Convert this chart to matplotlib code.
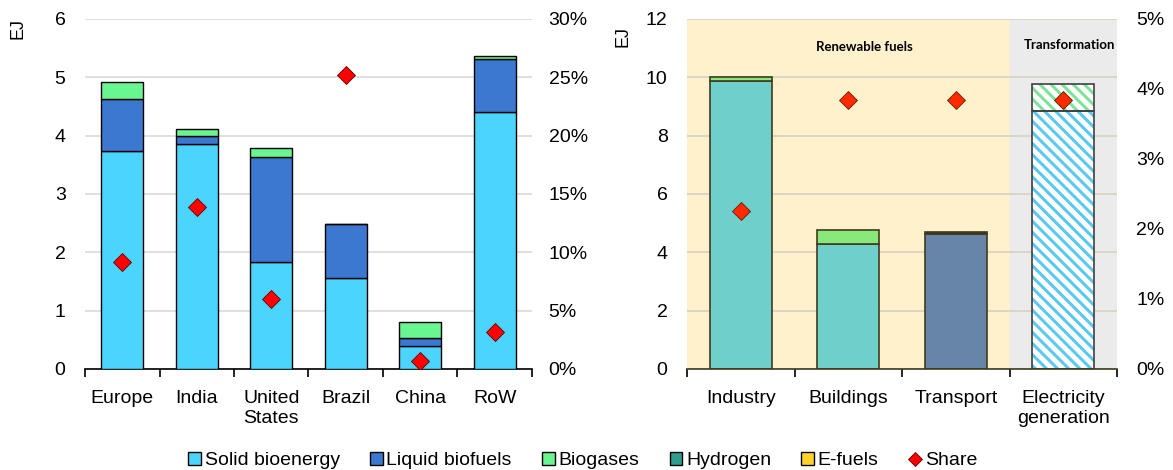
import numpy as np
import matplotlib
matplotlib.use("Agg")
import matplotlib.pyplot as plt
from matplotlib.patches import Patch
from matplotlib.lines import Line2D
from matplotlib.ticker import PercentFormatter

plt.rcParams["font.family"] = ["Liberation Sans", "DejaVu Sans"]
plt.rcParams["hatch.linewidth"] = 2.2

# Left panel: bioenergy by region
regions = ["Europe", "India", "United\nStates", "Brazil", "China", "RoW"]
solid = [3.73, 3.86, 1.83, 1.56, 0.39, 4.41]
liquid = [0.89, 0.14, 1.81, 0.93, 0.14, 0.90]
biogas = [0.30, 0.12, 0.15, 0.0, 0.28, 0.06]
share_left = [0.092, 0.139, 0.060, 0.252, 0.007, 0.032]

# Right panel: hydrogen-based fuels by sector
sectors = ["Industry", "Buildings", "Transport", "Electricity\ngeneration"]
main_fuel = [9.87, 4.27, 4.63, 8.84]
second_fuel = [0.14, 0.51, 0.06, 0.92]
share_right = [0.0225, 0.0384, 0.0384, 0.0384]

c_solid = "#4bd5fe"
c_liquid = "#3c78d0"
c_biogas = "#69f58f"
c_h2 = "#2e9c8f"
c_efuel = "#ffd42a"
c_red = "#ff0000"
c_grid = "#dcdcdc"
fs = 14

fig = plt.figure(figsize=(11.73, 4.70), dpi=100)

# ---------- left panel ----------
ax1 = fig.add_axes([0.0725, 0.2149, 0.381, 0.7447])
x = np.arange(len(regions))
w = 0.56
ax1.bar(x, solid, w, color=c_solid, edgecolor="black", lw=1, zorder=3)
ax1.bar(x, liquid, w, bottom=solid, color=c_liquid, edgecolor="black", lw=1, zorder=3)
b2 = np.array(solid) + np.array(liquid)
ax1.bar(x, biogas, w, bottom=b2, color=c_biogas, edgecolor="black", lw=1, zorder=3)
ax1.set_ylim(0, 6)
ax1.set_xlim(-0.5, len(regions) - 0.5)
ax1.set_yticks(range(0, 7))
ax1.yaxis.grid(True, color=c_grid, lw=1.3, zorder=0)
ax1.set_axisbelow(True)
for s in ["top", "right", "left"]:
    ax1.spines[s].set_visible(False)
ax1.spines["bottom"].set_color("black")
ax1.spines["bottom"].set_linewidth(1.2)
ax1.set_xticks(x)
ax1.set_xticklabels(regions, fontsize=fs, linespacing=1.25)
ax1.set_xticks(np.arange(-0.5, len(regions)), minor=True)
ax1.tick_params(axis="x", which="major", length=0, pad=15)
ax1.tick_params(axis="x", which="minor", length=6, width=1.2)
ax1.tick_params(axis="y", length=0, labelsize=fs, pad=14)
ax1.set_ylabel("EJ", fontsize=13)
ax1.yaxis.set_label_coords(-0.13, 0.974)

ax1r = ax1.twinx()
ax1r.plot(x, share_left, "D", color=c_red, mec="#5a0000", mew=0.6, ms=9, zorder=5)
ax1r.set_ylim(0, 0.30)
ax1r.set_yticks(np.arange(0, 0.31, 0.05))
ax1r.yaxis.set_major_formatter(PercentFormatter(1.0, decimals=0))
ax1r.tick_params(axis="y", length=0, labelsize=fs, pad=12)
for s in ax1r.spines.values():
    s.set_visible(False)

# ---------- right panel ----------
ax2 = fig.add_axes([0.5857, 0.2149, 0.3666, 0.7447])
x2 = np.arange(len(sectors))
w2 = 0.58
edge = "#3f3a1e"
ax2.axvspan(-0.5, 2.5, color="#fff1cc", zorder=0)
ax2.axvspan(2.5, 3.5, color="#ebebeb", zorder=0)
ax2.yaxis.grid(True, color="#d8d3c4", lw=1.3, zorder=1)

main_cols = ["#6fcfcb", "#6fcfcb", "#6685a8"]
top_cols = ["#88e879", "#88e879", "#3f3a1e"]
ax2.bar(x2[:3], main_fuel[:3], w2, color=main_cols, edgecolor=edge, lw=1.2, zorder=3)
ax2.bar(x2[:3], second_fuel[:3], w2, bottom=main_fuel[:3], color=top_cols,
        edgecolor=edge, lw=1.2, zorder=3)
# electricity generation: hatched
ax2.bar(x2[3], main_fuel[3], w2, color="white", edgecolor="#5bc8f0", hatch="\\\\\\",
        lw=0, zorder=3)
ax2.bar(x2[3], second_fuel[3], w2, bottom=main_fuel[3], color="white",
        edgecolor="#7ee39a", hatch="\\\\\\", lw=0, zorder=3)
ax2.bar(x2[3], main_fuel[3], w2, color="none", edgecolor="#404040", lw=1.2, zorder=4)
ax2.bar(x2[3], second_fuel[3], w2, bottom=main_fuel[3], color="none",
        edgecolor="#404040", lw=1.2, zorder=4)

ax2.set_ylim(0, 12)
ax2.set_xlim(-0.5, len(sectors) - 0.5)
ax2.set_yticks(range(0, 13, 2))
for s in ["top", "right", "left"]:
    ax2.spines[s].set_visible(False)
ax2.spines["bottom"].set_color(edge)
ax2.spines["bottom"].set_linewidth(1.2)
ax2.spines["bottom"].set_zorder(5)
ax2.set_xticks(x2)
ax2.set_xticklabels(sectors, fontsize=fs, linespacing=1.25)
ax2.set_xticks(np.arange(-0.5, len(sectors)), minor=True)
ax2.tick_params(axis="x", which="major", length=0, pad=15)
ax2.tick_params(axis="x", which="minor", length=6, width=1.2)
ax2.tick_params(axis="y", length=0, labelsize=fs, pad=14)
ax2.set_ylabel("EJ", fontsize=13)
ax2.yaxis.set_label_coords(-0.13, 0.949)
ax2.text(1.15, 11.04, "Renewable fuels", ha="center", va="center", fontsize=9.5,
         fontweight="bold", family=["Lato", "DejaVu Sans"], zorder=6)
ax2.text(3.06, 11.1, "Transformation", ha="center", va="center", fontsize=9.5,
         fontweight="bold", family=["Lato", "DejaVu Sans"], zorder=6)

ax2r = ax2.twinx()
ax2r.plot(x2, share_right, "D", color="#ff2a00", mec="#5a2000", mew=0.6, ms=9, zorder=5)
ax2r.set_ylim(0, 0.05)
ax2r.set_yticks(np.arange(0, 0.051, 0.01))
ax2r.yaxis.set_major_formatter(PercentFormatter(1.0, decimals=0))
ax2r.tick_params(axis="y", length=0, labelsize=fs, pad=14)
for s in ax2r.spines.values():
    s.set_visible(False)

# ---------- legend ----------
handles = [
    Patch(facecolor=c_solid, edgecolor="black", label="Solid bioenergy"),
    Patch(facecolor=c_liquid, edgecolor="black", label="Liquid biofuels"),
    Patch(facecolor=c_biogas, edgecolor="black", label="Biogases"),
    Patch(facecolor=c_h2, edgecolor="black", label="Hydrogen"),
    Patch(facecolor=c_efuel, edgecolor="black", label="E-fuels"),
    Line2D([], [], marker="D", color=c_red, mec="#5a0000", mew=0.6, ms=7, ls="none",
           label="Share"),
]
fig.legend(handles=handles, loc="center", bbox_to_anchor=(0.497, 0.02), ncol=6,
           frameon=False, fontsize=fs, handlelength=0.65, handleheight=0.65,
           handletextpad=0.2, columnspacing=1.55)

fig.savefig("out.png", dpi=100)
